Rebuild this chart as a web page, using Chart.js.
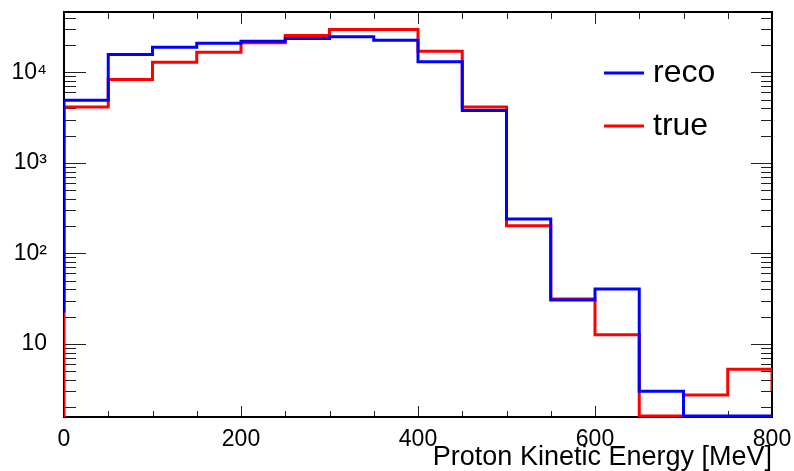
<!DOCTYPE html>
<html>
<head>
<meta charset="utf-8">
<script src="https://cdn.jsdelivr.net/npm/chart.js@4.4.1/dist/chart.umd.min.js"></script>
<style>
  html, body { margin: 0; padding: 0; background: #fff; }
  #wrap { width: 794px; height: 471px; }
</style>
</head>
<body>
<div id="wrap"><canvas id="chart" width="794" height="471"></canvas></div>
<script>
// Histogram bins (lower edges, MeV). The first and last bins sit just outside the drawn range,
// they only give the vertical edges at 0 and 800 like ROOT draws them.
const binLow = [-50, 0, 50, 100, 150, 200, 250, 300, 350, 400, 450, 500, 550, 600, 650, 700, 750, 800];
const binWidth = 50;
const recoCounts = [23, 4900, 15700, 18900, 20900, 22000, 23600, 24600, 22600, 13100, 3770, 240, 30.5, 40.4, 3.0, 1.6, 1.6, 1.6];
const trueCounts = [1.6, 4140, 8300, 12900, 16600, 21200, 25500, 29600, 29600, 17100, 4140, 202, 31.3, 12.6, 1.6, 2.73, 5.25, 3.0];

// Axis ticks
const xLabels = [0, 200, 400, 600, 800];
const xMinor = [50, 100, 150, 250, 300, 350, 450, 500, 550, 650, 700, 750];
const yLabels = [10, 100, 1000, 10000];
const yLabelText = ['10', '10\u00B2', '10\u00B3', '10\u2074'];
const yMin = 1.557;
const yMax = 46300;

const FONT = "'Liberation Sans', Arial, Helvetica, sans-serif";

function histPoints(counts) {
    const pts = binLow.map((x, i) => ({ x: x, y: counts[i] }));
    pts.push({ x: binLow[binLow.length - 1] + binWidth, y: counts[counts.length - 1] });
    return pts;
}

// log minor ticks 2..9 x 10^n inside the range
function logMinorTicks() {
    const out = [];
    for (let e = 0; e <= 4; e++) {
        for (let m = 2; m <= 9; m++) {
            const v = m * Math.pow(10, e);
            if (v > yMin && v < yMax) out.push(v);
        }
    }
    return out;
}

// ROOT-like frame with ticks drawn inside on all four sides
const rootFrame = {
    id: 'rootFrame',
    beforeDatasetsDraw(chart) {
        const ctx = chart.ctx;
        const { left, right, top, bottom } = chart.chartArea;
        const xs = chart.scales.x;
        const ys = chart.scales.y;
        ctx.save();
        ctx.strokeStyle = '#222';
        ctx.lineWidth = 1;
        ctx.beginPath();
        xLabels.concat(xMinor).forEach(v => {
            const major = xLabels.includes(v);
            const px = Math.round(xs.getPixelForValue(v)) + 0.5;
            ctx.moveTo(px, bottom);
            ctx.lineTo(px, bottom - (major ? 11 : 6));
            ctx.moveTo(px, top);
            ctx.lineTo(px, top + (major ? 12 : 7));
        });
        yLabels.concat(logMinorTicks()).forEach(v => {
            const major = yLabels.includes(v);
            const py = Math.round(ys.getPixelForValue(v)) + 0.5;
            ctx.moveTo(left, py);
            ctx.lineTo(left + (major ? 22 : 12), py);
            ctx.moveTo(right, py);
            ctx.lineTo(right - (major ? 21 : 11), py);
        });
        ctx.stroke();
        ctx.strokeStyle = '#000';
        ctx.lineWidth = 2;
        ctx.strokeRect(left, top, right - left, bottom - top);
        ctx.restore();
    },
    afterDraw(chart) {
        // legend in the upper right of the pad
        const ctx = chart.ctx;
        const rows = [73, 126];
        ctx.save();
        chart.data.datasets.forEach((ds, i) => {
            const y = rows[i];
            ctx.strokeStyle = ds.borderColor;
            ctx.lineWidth = 3;
            ctx.beginPath();
            ctx.moveTo(604, y);
            ctx.lineTo(644, y);
            ctx.stroke();
            ctx.fillStyle = '#000';
            ctx.font = '32px ' + FONT;
            ctx.textBaseline = 'alphabetic';
            ctx.textAlign = 'left';
            ctx.fillText(ds.label, 653, y + 9);
        });
        ctx.restore();
    }
};

const ctx = document.getElementById('chart').getContext('2d');
new Chart(ctx, {
    type: 'line',
    data: {
        datasets: [{
            label: 'reco',
            data: histPoints(recoCounts),
            borderColor: '#0000ff',
            borderWidth: 3,
            stepped: 'before',
            pointRadius: 0,
            fill: false
        }, {
            label: 'true',
            data: histPoints(trueCounts),
            borderColor: '#ff0000',
            borderWidth: 3,
            stepped: 'before',
            pointRadius: 0,
            fill: false
        }]
    },
    options: {
        responsive: false,
        animation: false,
        devicePixelRatio: 1,
        layout: { padding: { top: 12, right: 22, left: 0, bottom: 0 } },
        plugins: {
            legend: { display: false },
            tooltip: { enabled: false }
        },
        scales: {
            x: {
                type: 'linear',
                min: 0,
                max: 800,
                grid: { display: false, drawTicks: false },
                border: { display: false },
                afterBuildTicks: scale => { scale.ticks = xLabels.map(v => ({ value: v })); },
                afterFit: scale => {
                    scale.height = 54;
                    scale.paddingLeft = 0;
                    scale.paddingRight = 0;
                },
                ticks: {
                    color: '#000',
                    padding: 9,
                    maxRotation: 0,
                    autoSkip: false,
                    font: { family: FONT, size: 23 }
                },
                title: {
                    display: true,
                    text: 'Proton Kinetic Energy [MeV]',
                    align: 'end',
                    color: '#000',
                    padding: { top: 0, bottom: 0 },
                    font: { family: FONT, size: 27, lineHeight: 1 }
                }
            },
            y: {
                type: 'logarithmic',
                min: yMin,
                max: yMax,
                grid: { display: false, drawTicks: false },
                border: { display: false },
                afterBuildTicks: scale => { scale.ticks = yLabels.map(v => ({ value: v })); },
                afterFit: scale => {
                    scale.width = 64;
                    scale.paddingTop = 0;
                    scale.paddingBottom = 0;
                },
                ticks: {
                    color: '#000',
                    padding: 17,
                    autoSkip: false,
                    font: { family: FONT, size: 23 },
                    callback: v => yLabelText[yLabels.indexOf(v)]
                }
            }
        }
    },
    plugins: [rootFrame]
});
</script>
</body>
</html>
